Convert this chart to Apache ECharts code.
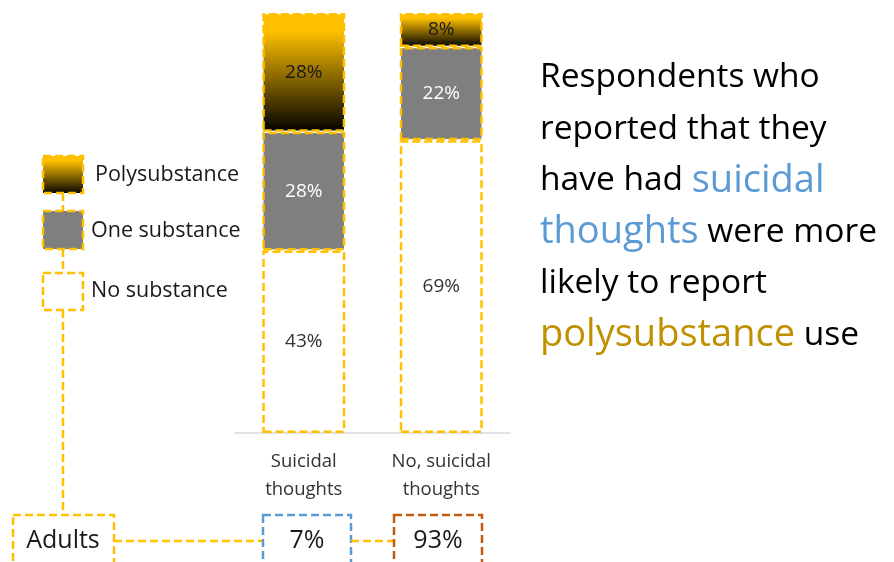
<!DOCTYPE html>
<html>
<head>
<meta charset="utf-8">
<script src="https://cdn.jsdelivr.net/npm/echarts@6/dist/echarts.min.js"></script>
<style>
html,body{margin:0;padding:0;background:#fff;}
#chart{width:894px;height:562px;}
</style>
</head>
<body>
<div id="chart"></div>
<script>
var categories = ['Suicidal\nthoughts', 'No, suicidal\nthoughts'];
var seriesNames = ['No substance', 'One substance', 'Polysubstance'];
var noSubstance = [43, 69];
var oneSubstance = [28, 22];
var polysubstance = [28, 8];
var groupLabel = 'Adults';
var groupShares = [7, 93];
var note = 'Respondents who\nreported that they\nhave had {b|suicidal}\n{b|thoughts} were more\nlikely to report\n{g|polysubstance} use';

var FONT = 'Open Sans';
var GOLD = '#FFC000';
var dash = [8, 4];
function goldGrad() {
  return {type:'linear', x:0, y:0, x2:0, y2:1, colorStops:[
    {offset:0, color:'#FFC000'}, {offset:0.15, color:'#FFC000'}, {offset:1, color:'#000000'}]};
}
var chart = echarts.init(document.getElementById('chart'), null, {renderer:'canvas'});
function seg(name, data, fill, labelColor) {
  return {
    name: name, type: 'bar', stack: 'all', data: data, barWidth: 83,
    itemStyle: {color: fill, borderColor: GOLD, borderWidth: 2.5, borderType: dash},
    label: {show: true, position: 'inside', formatter: '{c}%', color: labelColor,
            fontFamily: FONT, fontSize: 19},
    emphasis: {disabled: true}, animation: false
  };
}
var lineStyle = {stroke: GOLD, lineWidth: 2.5, lineDash: dash};
function box(x, y, w, h, fill, stroke) {
  return {type:'rect', shape:{x:x,y:y,width:w,height:h}, style:{fill:fill, stroke:stroke, lineWidth:2.5, lineDash:dash}};
}
function txt(x, y, t, size, align) {
  return {type:'text', x:x, y:y, style:{text:t, fontFamily:FONT, fontSize:size, fill:'#1a1a1a', align:align||'left', verticalAlign:'middle'}};
}
var graphics = [
  // legend
  box(43, 156, 40, 37, goldGrad(), GOLD),
  box(43, 211, 40, 38, '#7F7F7F', GOLD),
  box(43, 273, 40, 37, '#fff', GOLD),
  {type:'line', shape:{x1:63,y1:193,x2:63,y2:211}, style:lineStyle},
  {type:'line', shape:{x1:63,y1:249,x2:63,y2:273}, style:lineStyle},
  {type:'line', shape:{x1:63,y1:310,x2:63,y2:515}, style:lineStyle},
  txt(95, 175, seriesNames[2], 21.5),
  txt(91, 231, seriesNames[1], 21.5),
  txt(91, 291, seriesNames[0], 21.5),
  // bottom boxes
  box(13, 515, 101, 60, '#fff', GOLD),
  txt(63, 541, groupLabel, 25, 'center'),
  {type:'line', shape:{x1:114,y1:541,x2:263,y2:541}, style:lineStyle},
  box(263, 515, 88, 60, '#fff', '#5B9BD5'),
  txt(307, 541, groupShares[0] + '%', 25, 'center'),
  {type:'line', shape:{x1:351,y1:541,x2:394,y2:541}, style:lineStyle},
  box(394, 515, 88, 60, '#fff', '#C55A11'),
  txt(438, 541, groupShares[1] + '%', 25, 'center'),
  // note
  {type:'text', x:540, y:52, style:{text:note, fontFamily:FONT, fontSize:33.5, lineHeight:51.5, fill:'#000', verticalAlign:'top',
    rich:{b:{fill:'#5B9BD5', fontFamily:FONT, fontSize:38, lineHeight:51.5}, g:{fill:'#BF9000', fontFamily:FONT, fontSize:38, lineHeight:51.5}}}}
];
chart.setOption({
  animation: false,
  grid: {left: 235, right: 384, top: 13, bottom: 129},
  xAxis: {type: 'category', data: categories,
    axisLine: {lineStyle: {color: '#D9D9D9', width: 1.5}}, axisTick: {show: false},
    axisLabel: {color: '#333', fontFamily: FONT, fontSize: 18.5, lineHeight: 28, margin: 15}},
  yAxis: {type: 'value', min: 0, max: 99, show: false, splitLine: {show: false}},
  series: [
    seg(seriesNames[0], noSubstance, '#FFFFFF', '#333333'),
    seg(seriesNames[1], oneSubstance, '#7F7F7F', '#FFFFFF'),
    seg(seriesNames[2], polysubstance, goldGrad(), '#1a1a1a')
  ],
  graphic: graphics
});
</script>
</body>
</html>
